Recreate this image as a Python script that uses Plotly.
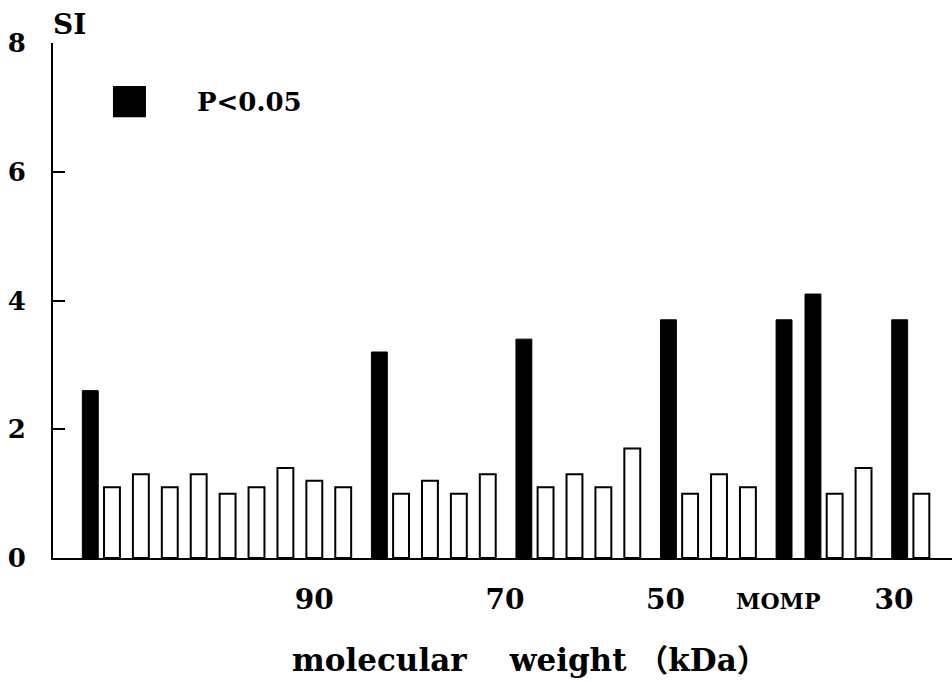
import plotly.graph_objects as go

# Stimulation index for each protein band, left to right along the gel
band_index = list(range(30))
si_values = [2.6, 1.1, 1.3, 1.1, 1.3, 1.0, 1.1, 1.4, 1.2, 1.1,
             3.2, 1.0, 1.2, 1.0, 1.3, 3.4, 1.1, 1.3, 1.1, 1.7,
             3.7, 1.0, 1.3, 1.1, 3.7, 4.1, 1.0, 1.4, 3.7, 1.0]
significant = [True, False, False, False, False, False, False, False, False, False,
               True, False, False, False, False, True, False, False, False, False,
               True, False, False, False, True, True, False, False, True, False]

# Molecular weight markers under the axis
marker_positions = [8.0, 14.6, 20.15, 24.05, 28.05]
marker_labels = ["90", "70", "50",
                 "<span style='font-size:22px'>MOMP</span>", "30"]

y_ticks = [0, 2, 4, 6, 8]

FONT = "DejaVu Serif"
BAR_W = 0.55

sig_x = [b for b, s in zip(band_index, significant) if s]
sig_y = [v for v, s in zip(si_values, significant) if s]
ns_x = [b for b, s in zip(band_index, significant) if not s]
ns_y = [v for v, s in zip(si_values, significant) if not s]

fig = go.Figure()
fig.add_trace(go.Bar(
    x=ns_x, y=ns_y, width=BAR_W,
    marker=dict(color="white", line=dict(color="black", width=2)),
    showlegend=False,
))
fig.add_trace(go.Bar(
    x=sig_x, y=sig_y, width=BAR_W, offset=-BAR_W / 2 + 0.25,
    marker=dict(color="black", line=dict(color="black", width=1)),
    showlegend=False,
))

fig.update_layout(
    width=952, height=682,
    margin=dict(l=53, r=0, t=43, b=124),
    paper_bgcolor="white", plot_bgcolor="white",
    barmode="overlay",
    font=dict(family=FONT, color="black"),
    xaxis=dict(
        range=[-1.04, 30.06],
        showgrid=False, zeroline=False,
        showline=True, linecolor="black", linewidth=2,
        tickmode="array", tickvals=marker_positions, ticktext=marker_labels,
        ticks="", ticklabelstandoff=15,
        tickfont=dict(family=FONT, size=28, color="black", weight="bold"),
    ),
    yaxis=dict(
        range=[0, 8],
        showgrid=False, zeroline=False,
        showline=True, linecolor="black", linewidth=2,
        tickmode="array", tickvals=y_ticks,
        ticks="inside", ticklen=12, tickwidth=2, tickcolor="black",
        ticklabelstandoff=20,
        tickfont=dict(family=FONT, size=26, color="black", weight="bold"),
    ),
    annotations=[
        dict(text="<b>SI</b>", xref="paper", yref="paper", x=-0.002, y=1.035,
             xanchor="left", yanchor="middle", showarrow=False,
             font=dict(family=FONT, size=28, color="black")),
        dict(text="<b>P&lt;0.05</b>", xref="paper", yref="paper", x=0.158, y=0.885,
             xanchor="left", yanchor="middle", showarrow=False,
             font=dict(family=FONT, size=26, color="black")),
        dict(text="<b>molecular\u00a0\u00a0\u00a0\u00a0weight\u00a0（kDa）</b>",
             xref="paper", yref="paper", x=0.531, y=-0.198,
             xanchor="center", yanchor="middle", showarrow=False,
             font=dict(family=FONT + ", Noto Sans CJK SC", size=31, color="black")),
    ],
    shapes=[
        dict(type="rect", xref="paper", yref="paper",
             x0=0.0667, x1=0.1034, y0=0.856, y1=0.9165,
             fillcolor="black", line=dict(color="black", width=0)),
    ],
)

fig.write_html("out.html")
